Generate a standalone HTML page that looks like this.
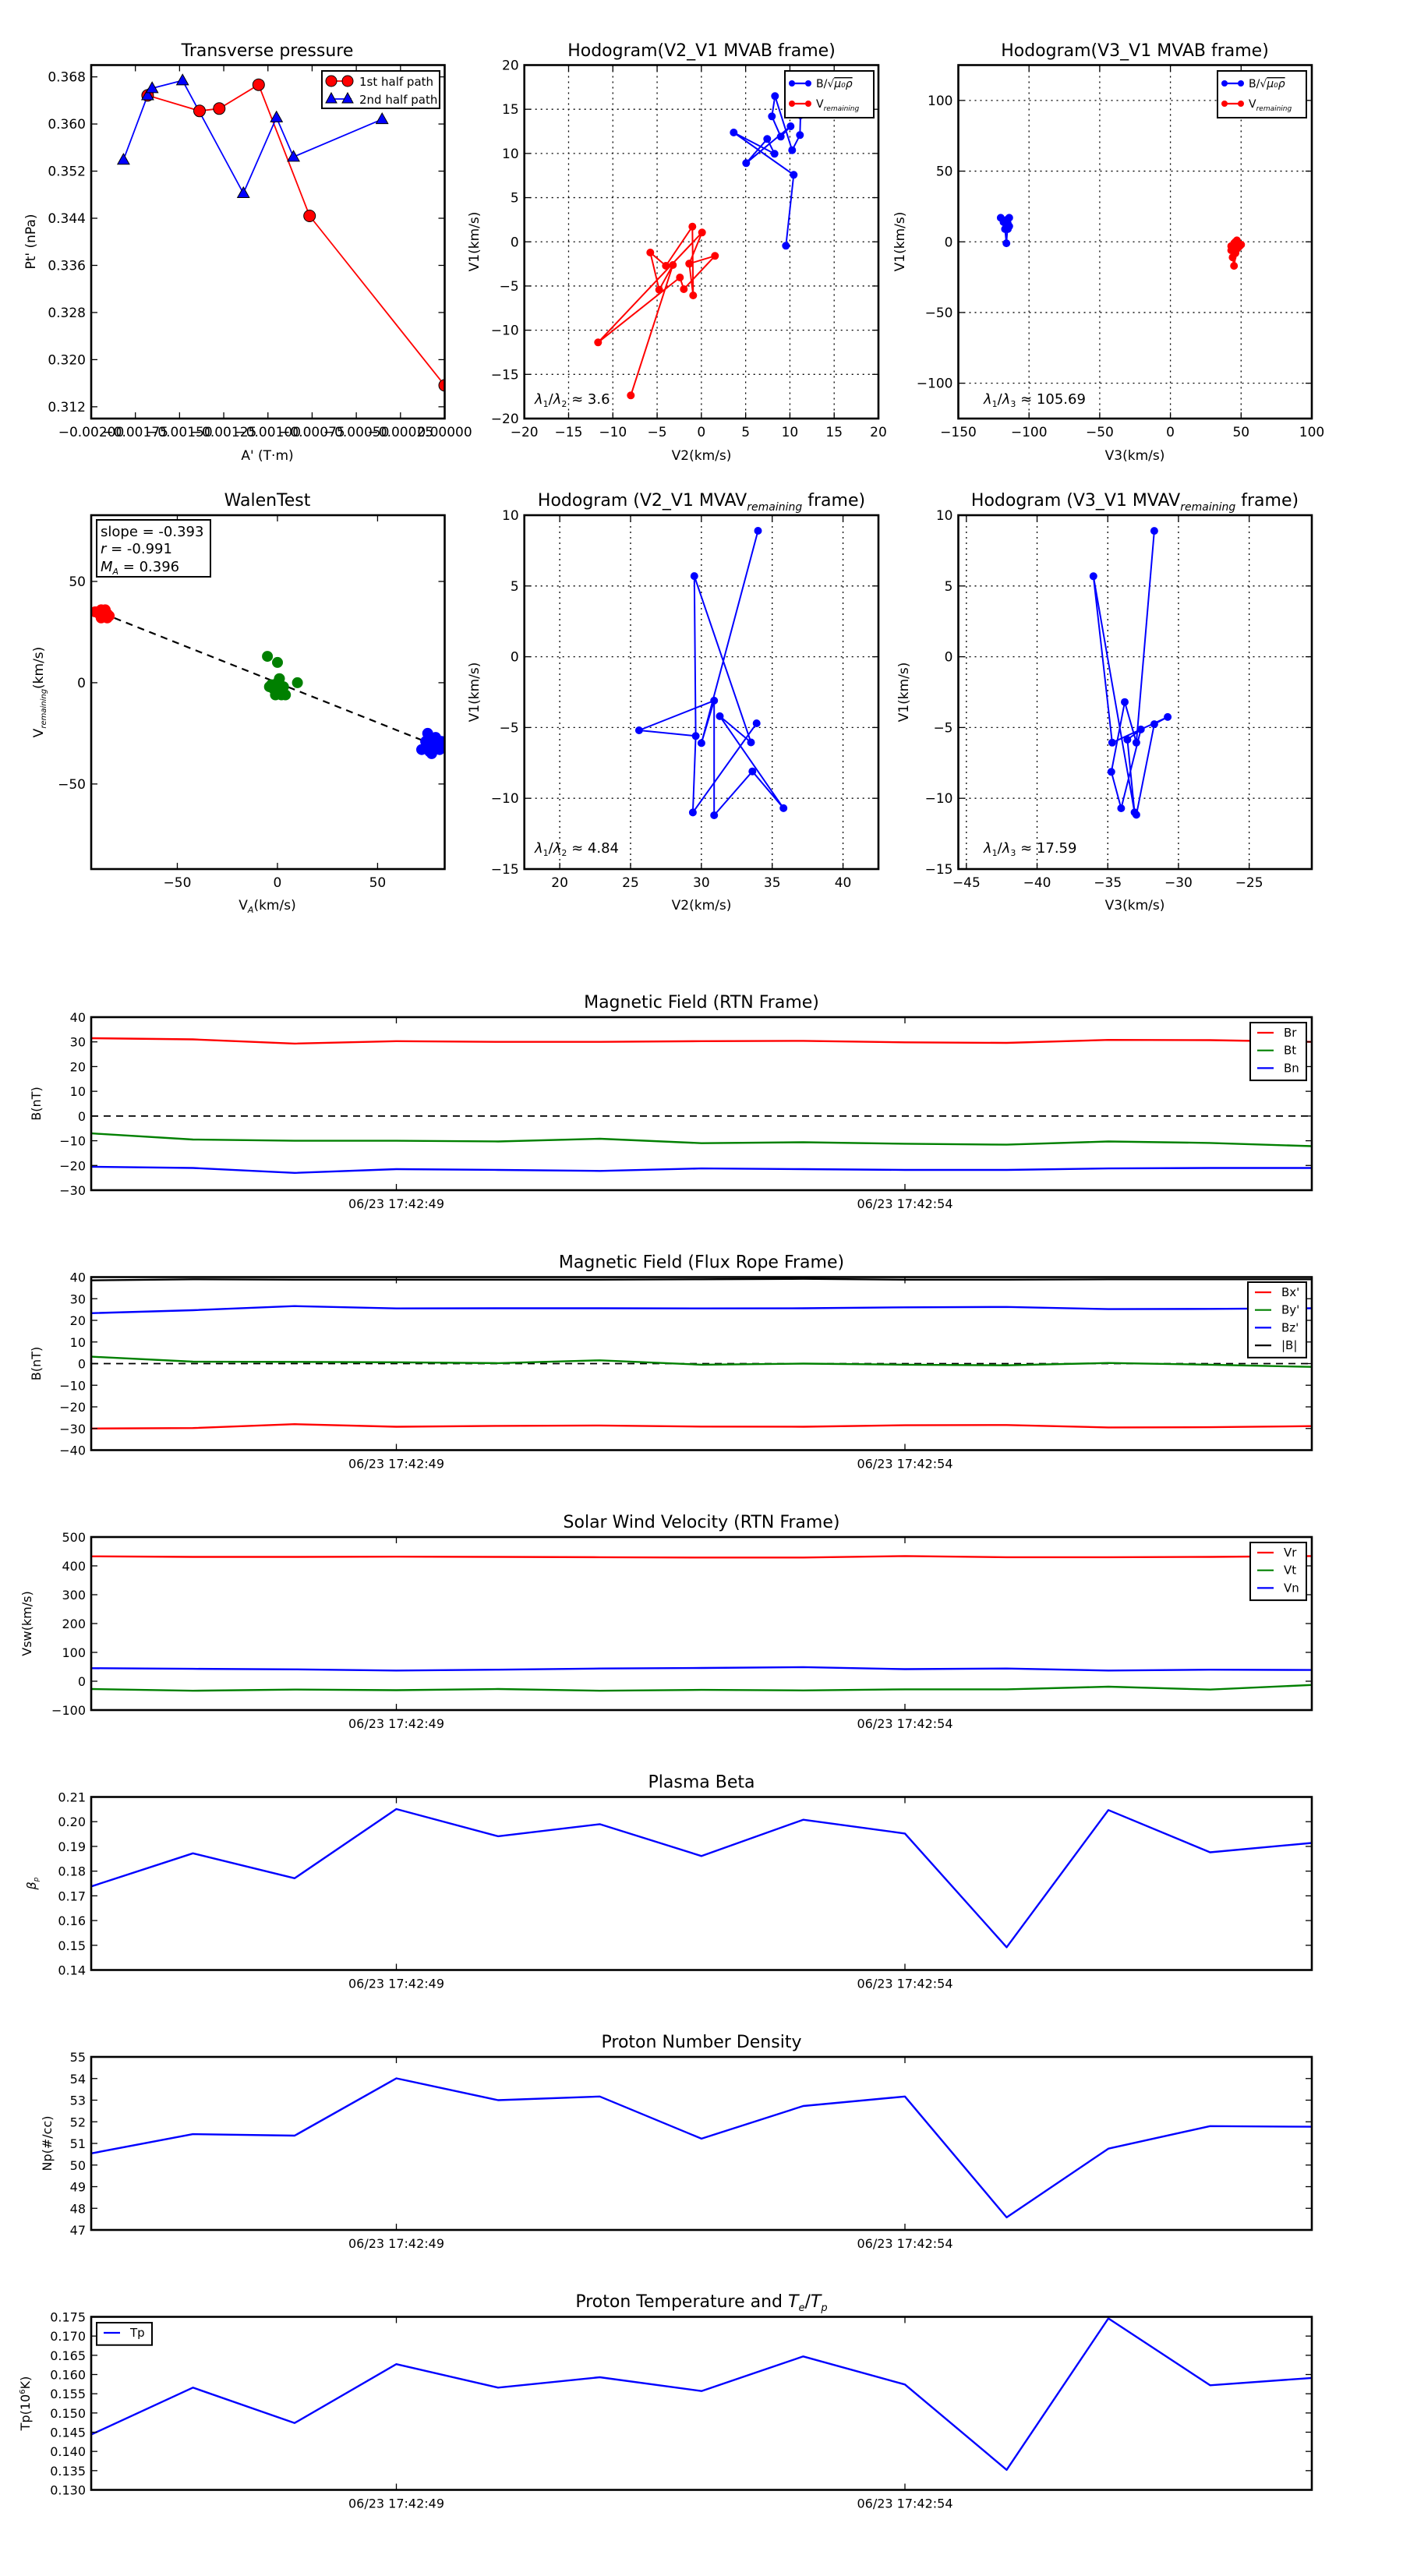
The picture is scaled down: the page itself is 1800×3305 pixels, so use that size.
<!DOCTYPE html>
<html><head><meta charset="utf-8"><style>
html,body{margin:0;padding:0;background:#fff;}
#c{width:1800px;height:3300px;}
text{font-family:"DejaVu Sans","Liberation Sans",sans-serif;fill:#000;}
</style></head><body><div id="c"></div>
<script>
let s='';let cid=0;
const zx=v=>v/0.8711, zy=v=>v/1.3067;
function fmt(v,d){let t=Math.abs(v).toFixed(d);return (v<-1e-9?'\u2212':'')+t;}
function T(x,y,t,size,anchor,extra){s+=`<text x="${x}" y="${y}" font-size="${size}" text-anchor="${anchor||'middle'}" ${extra||''}>${t}</text>`;}
function ax(o){
 const X=v=>o.x0+(v-o.xmin)/(o.xmax-o.xmin)*o.w, Y=v=>o.y0+o.h-(v-o.ymin)/(o.ymax-o.ymin)*o.h;
 cid++;o.cid='cp'+cid;
 s+=`<clipPath id="${o.cid}"><rect x="${o.x0}" y="${o.y0}" width="${o.w}" height="${o.h}"/></clipPath>`;
 if(o.grid){
  o.xt.forEach(v=>{const x=X(v);s+=`<line x1="${x}" y1="${o.y0}" x2="${x}" y2="${o.y0+o.h}" stroke="#000" stroke-width="1.3" stroke-dasharray="2,5"/>`;});
  o.yt.forEach(v=>{const y=Y(v);s+=`<line x1="${o.x0}" y1="${y}" x2="${o.x0+o.w}" y2="${y}" stroke="#000" stroke-width="1.3" stroke-dasharray="2,5"/>`;});
 }
 o.X=X;o.Y=Y;return o;
}
function frame(o){
 const fs=o.fs||17;
 o.xt.forEach((v,i)=>{const x=o.X(v);
  s+=`<line x1="${x}" y1="${o.y0+o.h}" x2="${x}" y2="${o.y0+o.h-8}" stroke="#000" stroke-width="1.3"/><line x1="${x}" y1="${o.y0}" x2="${x}" y2="${o.y0+8}" stroke="#000" stroke-width="1.3"/>`;
  T(x,o.y0+o.h+23,o.xl?o.xl[i]:fmt(v,o.xd||0),fs);});
 o.yt.forEach((v,i)=>{const y=o.Y(v);
  s+=`<line x1="${o.x0}" y1="${y}" x2="${o.x0+8}" y2="${y}" stroke="#000" stroke-width="1.3"/><line x1="${o.x0+o.w}" y1="${y}" x2="${o.x0+o.w-8}" y2="${y}" stroke="#000" stroke-width="1.3"/>`;
  T(o.x0-7,y+6,fmt(v,o.yd||0),fs,'end');});
 s+=`<rect x="${o.x0}" y="${o.y0}" width="${o.w}" height="${o.h}" fill="none" stroke="#000" stroke-width="2.6"/>`;
}
function line(o,pts,col,w,extra){s+=`<polyline clip-path="url(#${o.cid})" points="${pts.map(p=>p[0].toFixed(1)+','+p[1].toFixed(1)).join(' ')}" fill="none" stroke="${col}" stroke-width="${w||2.2}" stroke-linejoin="round" ${extra||''}/>`;}
function dots(o,pts,col,r,edge){pts.forEach(p=>{s+=`<circle clip-path="url(#${o.cid})" cx="${p[0].toFixed(1)}" cy="${p[1].toFixed(1)}" r="${r}" fill="${col}" stroke="${edge||col}" stroke-width="1"/>`;});}
function tri(o,pts,col,r){pts.forEach(p=>{const [x,y]=p;s+=`<polygon clip-path="url(#${o.cid})" points="${x},${y-r} ${x-r*0.95},${y+r*0.7} ${x+r*0.95},${y+r*0.7}" fill="${col}" stroke="#000" stroke-width="1"/>`;});}
const D=(o,a)=>a.map(p=>[o.X(p[0]),o.Y(p[1])]);
const Zc=a=>a.map(p=>[zx(p[0]),zy(p[1])]);
function rng(a,b,st){let r=[];for(let v=a;v<=b+st/1000;v+=st)r.push(Math.round(v/st)*st);return r;}

// ---------- Row 1 ----------
// Transverse pressure
let a=ax({x0:117,y0:83.5,w:453.5,h:453.5,xmin:-0.002,xmax:0,ymin:0.310,ymax:0.370,xt:rng(-0.002,0,0.00025),yt:rng(0.312,0.368,0.008),xd:5,yd:3});
let red=Zc([[165,160],[223,186],[245,182],[289,142],[346,362],[497,646]]);
let blue=Zc([[138,268],[165,160],[170,148],[204,135],[272,324],[309,197],[328,263],[427,200]]);
line(a,red,'#f00',1.8);line(a,blue,'#00f',1.8);
dots(a,red,'#f00',7.5,'#000');tri(a,blue,'#00f',8);
frame(a);
T(343,72,'Transverse pressure',22);T(343,590,"A' (T·m)",17);
T(45,310,"Pt' (nPa)",17,'middle','transform="rotate(-90 45 310)"');
s+=`<rect x="413" y="91" width="151" height="48" fill="#fff" stroke="#000" stroke-width="2"/>`;
s+=`<line x1="421" y1="104" x2="451" y2="104" stroke="#f00" stroke-width="1.8"/><circle cx="425" cy="104" r="7" fill="#f00" stroke="#000"/><circle cx="446" cy="104" r="7" fill="#f00" stroke="#000"/>`;
s+=`<line x1="421" y1="127" x2="451" y2="127" stroke="#00f" stroke-width="1.8"/><polygon points="425,119 418,132 432,132" fill="#00f" stroke="#000"/><polygon points="446,119 439,132 453,132" fill="#00f" stroke="#000"/>`;
T(461,110,'1st half path',15,'start');T(461,133,'2nd half path',15,'start');

function hodoLegend(x,y){
 s+=`<rect x="${x}" y="${y}" width="114" height="60" fill="#fff" stroke="#000" stroke-width="2"/>`;
 s+=`<line x1="${x+7}" y1="${y+16}" x2="${x+32}" y2="${y+16}" stroke="#00f" stroke-width="2.2"/><circle cx="${x+9}" cy="${y+16}" r="4" fill="#00f"/><circle cx="${x+30}" cy="${y+16}" r="4" fill="#00f"/>`;
 s+=`<line x1="${x+7}" y1="${y+42}" x2="${x+32}" y2="${y+42}" stroke="#f00" stroke-width="2.2"/><circle cx="${x+9}" cy="${y+42}" r="4" fill="#f00"/><circle cx="${x+30}" cy="${y+42}" r="4" fill="#f00"/>`;
 s+=`<text x="${x+40}" y="${y+21}" font-size="14">B/√<tspan font-style="italic" text-decoration="overline">μ₀ρ</tspan></text>`;
 s+=`<text x="${x+40}" y="${y+47}" font-size="14">V<tspan font-size="9" font-style="italic" dy="4">remaining</tspan></text>`;
}
// Hodogram V2_V1 MVAB
a=ax({x0:672.7,y0:83.5,w:454.3,h:453.5,xmin:-20,xmax:20,ymin:-20,ymax:20,xt:rng(-20,20,5),yt:rng(-20,20,5),grid:1});
let hb=[[1008.3,315.3],[1018.3,224.3],[941.3,170],[993.7,197.3],[984.3,178.3],[957.3,209.3],[1014.3,162],[1001.7,175.3],[990.3,149.3],[994.3,123.3],[1016.3,192.7],[1026.3,173.3],[1027,148]];
let hr=[[178,682],[340,180],[287,275],[253,132],[313,183],[415,32],[418,297],[403,175],[502,145],[382,273],[367,228],[52,478],[452,55],[403,175]].map(p=>[750+p[0]/3,280+p[1]/3]);
line(a,hb,'#00f',2);dots(a,hb,'#00f',4.5);line(a,hr,'#f00',2);dots(a,hr,'#f00',4.5);
frame(a);hodoLegend(1007,91);
T(900,72,'Hodogram(V2_V1 MVAB frame)',22);T(900,590,'V2(km/s)',17);
T(614,310,'V1(km/s)',17,'middle','transform="rotate(-90 614 310)"');
s+=`<text x="686" y="518" font-size="18"><tspan font-style="italic">λ</tspan><tspan font-size="11" dy="4">1</tspan><tspan dy="-4">/</tspan><tspan font-style="italic">λ</tspan><tspan font-size="11" dy="4">2</tspan><tspan dy="-4"> ≈ 3.6</tspan></text>`;
// Hodogram V3_V1 MVAB
a=ax({x0:1229.5,y0:83.5,w:453.5,h:453.5,xmin:-150,xmax:100,ymin:-125,ymax:125,xt:rng(-150,100,50),yt:rng(-100,100,50),grid:1});
let cb=[[-120,17],[-117,15],[-116,12],[-115,16],[-116,10],[-114,11],[-117,9],[-116,-1],[-115,13],[-118,14],[-114,17],[-116,11],[-115,9]];
let cr=[[45,-2],[47,1],[43,-3],[48,-4],[46,-8],[44,-11],[45,-17],[47,-5],[50,-2],[46,0],[43,-6],[49,-3],[45,-1]];
line(a,D(a,cb),'#00f',2);dots(a,D(a,cb),'#00f',4.5);line(a,D(a,cr),'#f00',2);dots(a,D(a,cr),'#f00',4.5);
frame(a);hodoLegend(1562,91);
T(1456,72,'Hodogram(V3_V1 MVAB frame)',22);T(1456,590,'V3(km/s)',17);
T(1160,310,'V1(km/s)',17,'middle','transform="rotate(-90 1160 310)"');
s+=`<text x="1262" y="518" font-size="18"><tspan font-style="italic">λ</tspan><tspan font-size="11" dy="4">1</tspan><tspan dy="-4">/</tspan><tspan font-style="italic">λ</tspan><tspan font-size="11" dy="4">3</tspan><tspan dy="-4"> ≈ 105.69</tspan></text>`;

// ---------- Row 2 ----------
a=ax({x0:117,y0:661,w:453.5,h:454,xmin:-93,xmax:83.5,ymin:-92,ymax:82.7,xt:[-50,0,50],yt:[-50,0,50]});
line(a,[[a.X(-93),a.Y(36.5)],[a.X(83.5),a.Y(-32.8)]],'#000',2.2,'stroke-dasharray="9,7"');
let wr=[[-90,35],[-88,36],[-86,34],[-87,33],[-85,32],[-89,34],[-86,36],[-84,33],[-91,35],[-87,35],[-85,34],[-88,32],[-86,35]];
let wg=[[-5,13],[0,10],[-3,-1],[-2,-3],[0,-4],[1,2],[2,-6],[4,-6],[10,0],[-1,-6],[3,-2],[0,0],[-4,-2]];
let wb=[[72,-33],[75,-25],[76,-28],[78,-32],[80,-30],[82,-29],[77,-35],[75,-30],[79,-27],[81,-33],[76,-34],[83,-31],[74,-29]];
dots(a,D(a,wr),'#f00',6.5);dots(a,D(a,wg),'#008000',6.5);dots(a,D(a,wb),'#00f',6.5);
frame(a);
s+=`<rect x="124" y="667" width="146" height="73" fill="#fff" stroke="#000" stroke-width="2"/>`;
T(129,688,'slope = -0.393',18,'start');
s+=`<text x="129" y="710" font-size="18"><tspan font-style="italic">r</tspan> = -0.991</text>`;
s+=`<text x="129" y="733" font-size="18"><tspan font-style="italic">M</tspan><tspan font-size="11" font-style="italic" dy="4">A</tspan><tspan dy="-4"> = 0.396</tspan></text>`;
T(343,649,'WalenTest',22);
s+=`<text x="343" y="1167" font-size="17" text-anchor="middle">V<tspan font-size="11" font-style="italic" dy="4">A</tspan><tspan dy="-4">(km/s)</tspan></text>`;
s+=`<text x="55" y="888" font-size="17" text-anchor="middle" transform="rotate(-90 55 888)">V<tspan font-size="10" font-style="italic" dy="4">remaining</tspan><tspan dy="-4">(km/s)</tspan></text>`;

a=ax({x0:672.7,y0:661,w:454.3,h:454,xmin:17.5,xmax:42.5,ymin:-15,ymax:10,xt:rng(20,40,5),yt:rng(-15,10,5),grid:1});
let P={A:[34,8.9],B:[30.0,-6.1],C:[30.9,-3.1],D:[25.6,-5.2],E:[29.6,-5.6],F:[29.5,5.7],G:[33.5,-6.05],H:[31.3,-4.2],I:[35.8,-10.7],J:[33.6,-8.1],K:[30.9,-11.2],L:[33.9,-4.7],M:[29.4,-11]};
let p1='ABCDEFGHIJKC'.split('').map(k=>P[k]),p2='LME'.split('').map(k=>P[k]);
line(a,D(a,p1),'#00f',2);line(a,D(a,p2),'#00f',2);dots(a,D(a,Object.values(P)),'#00f',4.5);
frame(a);
s+=`<text x="900" y="649" font-size="22" text-anchor="middle">Hodogram (V2_V1 MVAV<tspan font-size="14" font-style="italic" dy="6">remaining</tspan><tspan dy="-6"> frame)</tspan></text>`;
T(900,1167,'V2(km/s)',17);T(614,888,'V1(km/s)',17,'middle','transform="rotate(-90 614 888)"');
s+=`<text x="686" y="1094" font-size="18"><tspan font-style="italic">λ</tspan><tspan font-size="11" dy="4">1</tspan><tspan dy="-4">/</tspan><tspan font-style="italic">λ</tspan><tspan font-size="11" dy="4">2</tspan><tspan dy="-4"> ≈ 4.84</tspan></text>`;

a=ax({x0:1229.5,y0:661,w:453.5,h:454,xmin:-45.57,xmax:-20.57,ymin:-15,ymax:10,xt:rng(-45,-25,5),yt:rng(-15,10,5),grid:1});
let v3=Zc([[1290,890],[1270,1245],[1257,1177],[1242,1294],[1253,1355],[1275,1223],[1260,1240],[1268,1362],[1222,966],[1243,1245],[1305,1202],[1290,1214],[1270,1366]]);
line(a,v3,'#00f',2);dots(a,v3,'#00f',4.5);
frame(a);
s+=`<text x="1456" y="649" font-size="22" text-anchor="middle">Hodogram (V3_V1 MVAV<tspan font-size="14" font-style="italic" dy="6">remaining</tspan><tspan dy="-6"> frame)</tspan></text>`;
T(1456,1167,'V3(km/s)',17);T(1165,888,'V1(km/s)',17,'middle','transform="rotate(-90 1165 888)"');
s+=`<text x="1262" y="1094" font-size="18"><tspan font-style="italic">λ</tspan><tspan font-size="11" dy="4">1</tspan><tspan dy="-4">/</tspan><tspan font-style="italic">λ</tspan><tspan font-size="11" dy="4">3</tspan><tspan dy="-4"> ≈ 17.59</tspan></text>`;

// ---------- Time panels ----------
function tpanel(y0,ymin,ymax,yt,yd,title,ylab,ylx,series,zero){
 let o=ax({x0:117,y0:y0,w:1566,h:222,xmin:0,xmax:12,ymin:ymin,ymax:ymax,xt:[3,8],yt:yt,yd:yd,xl:['06/23 17:42:49','06/23 17:42:54'],fs:16});
 if(zero)line(o,[[o.X(0),o.Y(0)],[o.X(12),o.Y(0)]],'#000',1.8,'stroke-dasharray="9,7"');
 series.forEach(se=>line(o,se.d.map((v,i)=>[o.X(i),o.Y(v)]),se.c,2.4));
 frame(o);
 T(900,y0-12,title,22);
 T(ylx,y0+111,ylab,16,'middle',`transform="rotate(-90 ${ylx} ${y0+111})"`);
 return o;
}
function tleg(x,y,w,items){
 s+=`<rect x="${x}" y="${y}" width="${w}" height="${items.length*22.7+6}" fill="#fff" stroke="#000" stroke-width="2"/>`;
 items.forEach((it,i)=>{const yy=y+13+i*22.7;s+=`<line x1="${x+9}" y1="${yy}" x2="${x+30}" y2="${yy}" stroke="${it[1]}" stroke-width="2.2"/>`;T(x+43,yy+5,it[0],15,'start');});
}
tpanel(1305,-30,40,rng(-30,40,10),0,'Magnetic Field (RTN Frame)','B(nT)',52,[
 {c:'#f00',d:[31.5,31,29.3,30.3,30,30,30.3,30.4,29.8,29.6,30.8,30.7,30]},
 {c:'#008000',d:[-7,-9.5,-10,-10,-10.3,-9.2,-11,-10.6,-11.2,-11.6,-10.3,-10.9,-12.2]},
 {c:'#00f',d:[-20.5,-21,-23,-21.5,-21.8,-22.2,-21.2,-21.5,-21.8,-21.8,-21.2,-21,-21]}],1);
tleg(1604,1312,72,[['Br','#f00'],['Bt','#008000'],['Bn','#00f']]);
tpanel(1638.5,-40,40,rng(-40,40,10),0,'Magnetic Field (Flux Rope Frame)','B(nT)',52,[
 {c:'#000',d:[38.5,39,38.8,38.8,38.8,38.8,39,39.2,38.8,38.8,39,39,39]},
 {c:'#00f',d:[23.3,24.7,26.6,25.5,25.6,25.6,25.5,25.6,26,26.2,25.2,25.3,25.6]},
 {c:'#008000',d:[3.2,0.9,0.8,0.6,0.2,1.5,-0.5,0,-0.5,-0.8,0.3,-0.5,-1.5]},
 {c:'#f00',d:[-30,-29.8,-28,-29.2,-28.8,-28.6,-29.1,-29.2,-28.5,-28.4,-29.5,-29.4,-28.9]}],1);
tleg(1601,1645,75,[["Bx'",'#f00'],["By'",'#008000'],["Bz'",'#00f'],['|B|','#000']]);
tpanel(1972,-100,500,rng(-100,500,100),0,'Solar Wind Velocity (RTN Frame)','Vsw(km/s)',40,[
 {c:'#f00',d:[433,431,431,432,431,430,429,429,434,430,430,431,434]},
 {c:'#008000',d:[-27,-33,-29,-31,-27,-33,-30,-32,-28,-28,-19,-29,-13]},
 {c:'#00f',d:[45,43,41,37,40,44,46,49,42,44,37,40,39]}]);
tleg(1604,1979,72,[['Vr','#f00'],['Vt','#008000'],['Vn','#00f']]);
tpanel(2305.5,0.14,0.21,rng(0.14,0.21,0.01),2,'Plasma Beta','<tspan font-style="italic">β</tspan><tspan font-size="9" font-style="italic" dy="3">p</tspan>',46,[
 {c:'#00f',d:[0.1738,0.1872,0.1771,0.2051,0.1941,0.199,0.1861,0.2008,0.1952,0.1492,0.2047,0.1876,0.1914]}]);
tpanel(2639,47,55,rng(47,55,1),0,'Proton Number Density','Np(#/cc)',66,[
 {c:'#00f',d:[50.54,51.43,51.36,54.01,53.0,53.17,51.22,52.73,53.17,47.58,50.76,51.8,51.77]}]);
let o6=tpanel(2972.5,0.13,0.175,rng(0.13,0.175,0.005),3,'','Tp(10<tspan font-size="10" dy="-6">6</tspan><tspan dy="6">K)</tspan>',38,[
 {c:'#00f',d:[0.1444,0.1566,0.1474,0.1627,0.1566,0.1593,0.1557,0.1647,0.1574,0.1352,0.1746,0.1572,0.1591]}]);
s+=`<text x="900" y="2960" font-size="22" text-anchor="middle">Proton Temperature and <tspan font-style="italic">T</tspan><tspan font-size="13" font-style="italic" dy="5">e</tspan><tspan dy="-5">/</tspan><tspan font-style="italic">T</tspan><tspan font-size="13" font-style="italic" dy="5">p</tspan></text>`;
tleg(124,2980,71,[['Tp','#00f']]);

document.getElementById('c').innerHTML=`<svg xmlns="http://www.w3.org/2000/svg" width="1800" height="3300" viewBox="0 0 1800 3300"><rect width="1800" height="3300" fill="#fff"/>${s}</svg>`;
</script></body></html>
